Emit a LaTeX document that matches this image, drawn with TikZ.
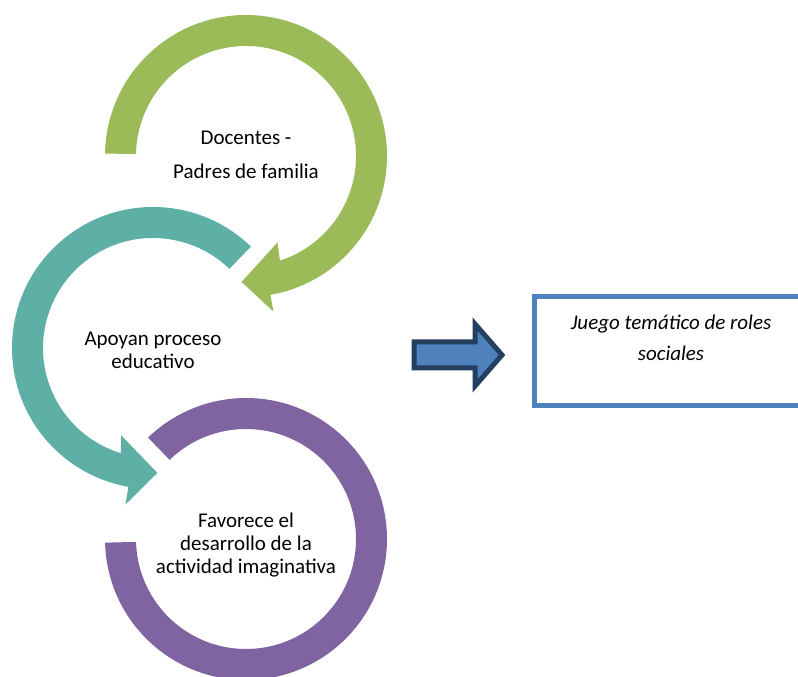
\documentclass[tikz,border=0pt]{standalone}
\usepackage{fontspec}
\setmainfont{Carlito}
\usetikzlibrary{calc}
\definecolor{cgreen}{HTML}{9BBB59}
\definecolor{cteal}{HTML}{5EB0A7}
\definecolor{cpurple}{HTML}{8064A2}
\definecolor{cblue}{HTML}{4F81BD}
\definecolor{cdark}{HTML}{243F60}
\begin{document}
\begin{tikzpicture}[x=1pt,y=1pt,
  lbl/.style={font=\fontsize{21}{23}\selectfont, align=center, inner sep=0pt, text=black},
  ring/.style={draw=none}]
\useasboundingbox (0,0) rectangle (798,677);
\coordinate (G) at (246,521);
\coordinate (T) at (153,329);
\coordinate (P) at (246,138);
% green circular arrow
\fill[cgreen] ($(G)+(179:141)$) arc[start angle=179, end angle=-80, radius=141]
  -- ($(G)+(-80:158)$) -- ($(G)+(-92:126)$) -- ($(G)+(-70:92)$) -- ($(G)+(-72:110)$)
  arc[start angle=-72, end angle=179, radius=110] -- cycle;
% teal circular arrow
\fill[cteal] ($(T)+(46:141)$) arc[start angle=46, end angle=260, radius=141]
  -- ($(T)+(260:159)$) -- ($(T)+(272:125)$) -- ($(T)+(250:93)$) -- ($(T)+(253:110)$)
  arc[start angle=253, end angle=46, radius=110] -- cycle;
% purple ring
\fill[cpurple] ($(P)+(181.5:141)$) arc[start angle=181.5, end angle=494, radius=141]
  -- ($(P)+(494:110)$) arc[start angle=494, end angle=181.5, radius=110] -- cycle;
% texts
\node[lbl] (tg) at (246,522) {Docentes -\\[11pt]Padres de familia};
\node[lbl] (tt) at (153,327) {Apoyan proceso\\educativo};
\node[lbl] (tp) at (246,132) {Favorece el\\desarrollo de la\\actividad imaginativa};
% block arrow
\draw[cdark, fill=cblue, line width=5, line join=miter]
  (414,335) -- (475,335) -- (475,353) -- (502,322) -- (475,291) -- (475,309) -- (414,309) -- cycle;
% box
\node[draw=cblue, line width=5, minimum width=281.5, minimum height=109, inner sep=0pt] (box) at (675.25,326) {};
\node[lbl, font=\fontsize{21}{31}\selectfont\itshape] (tb) at (671,339.5) {Juego temático de roles\\sociales};
\end{tikzpicture}
\end{document}
